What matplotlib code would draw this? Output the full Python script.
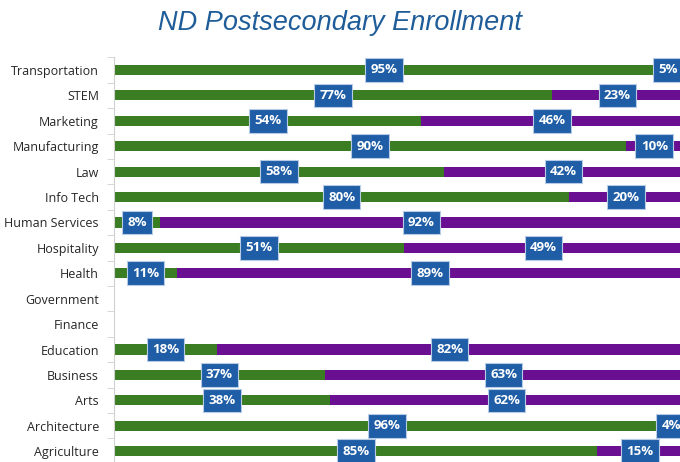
import matplotlib.pyplot as plt
import numpy as np

# categories from top to bottom as in the chart
categories = ["Transportation", "STEM", "Marketing", "Manufacturing", "Law",
              "Info Tech", "Human Services", "Hospitality", "Health",
              "Government", "Finance", "Education", "Business", "Arts",
              "Architecture", "Agriculture"]
green_pct = [95, 77, 54, 90, 58, 80, 8, 51, 11, 0, 0, 18, 37, 38, 96, 85]
purple_pct = [5, 23, 46, 10, 42, 20, 92, 49, 89, 0, 0, 82, 63, 62, 4, 15]

GREEN = "#3a7d22"
PURPLE = "#6a0f92"
BOX = "#1f5ea6"

fig = plt.figure(figsize=(6.8, 4.62), dpi=100)
ax = fig.add_axes([0.168, -0.004, 0.836, 0.880])

y = np.arange(len(categories))[::-1]
ax.barh(y, green_pct, height=0.4, color=GREEN)
ax.barh(y, purple_pct, left=green_pct, height=0.4, color=PURPLE)

box = dict(boxstyle="square,pad=0.4", fc=BOX, ec="#b8cbe6", lw=0.8)
for yi, g, p in zip(y, green_pct, purple_pct):
    if g > 0:
        ax.text(g / 2, yi, f"{g}%", ha="center", va="center", color="white",
                fontsize=9.5, fontweight="bold", family="Open Sans", bbox=box,
                clip_on=False)
    if p > 0:
        ax.text(g + p / 2, yi, f"{p}%", ha="center", va="center", color="white",
                fontsize=9.5, fontweight="bold", family="Open Sans", bbox=box,
                clip_on=False)

ax.set_xlim(0, 100)
ax.set_ylim(-0.5, len(categories) - 0.5)
ax.set_yticks(y)
ax.set_yticklabels(categories, fontsize=9, color="#262626", family="Open Sans")
ax.set_yticks(np.arange(len(categories) + 1) - 0.5, minor=True)
ax.tick_params(axis="y", which="major", length=0, pad=11)
ax.tick_params(axis="y", which="minor", length=5, color="#d0d0d0")
ax.set_xticks([])
for s in ["top", "right", "bottom"]:
    ax.spines[s].set_visible(False)
ax.spines["left"].set_color("#d0d0d0")

fig.text(0.5, 0.95, "ND Postsecondary Enrollment", ha="center", va="center",
         fontsize=19.5, style="italic", color="#1f5d99", family="Liberation Sans")

fig.savefig("out.png", dpi=100)
